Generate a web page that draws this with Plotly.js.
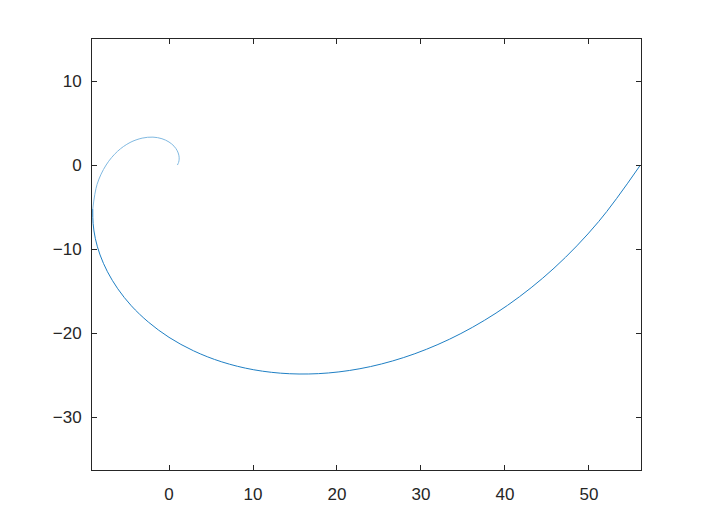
<!DOCTYPE html>
<html>
<head>
<meta charset="utf-8">
<script src="https://cdn.plot.ly/plotly-3.0.1.min.js"></script>
<style>html,body{margin:0;padding:0;background:#fff;}#plot{width:709px;height:529px;}</style>
</head>
<body>
<div id="plot"></div>
<script>
// Points (inner, lighter part)
const innerX = [1.00, 1.14, 1.21, 1.17, 0.98, 0.60, 0.00, -0.84, -1.91, -3.20, -4.64, -6.12, -7.49, -8.56, -9.08];
const innerY = [0.00, 0.31, 0.70, 1.17, 1.70, 2.24, 2.74, 3.13, 3.32, 3.20, 2.68, 1.64, 0.00, -2.29, -5.24];
// Outer, darker part
const outerX = [-9.08, -9.04, -8.77, -8.21, -7.33, -6.10, -4.49, -2.46, 0.00, 2.91, 6.28, 10.09, 14.34, 18.99, 23.99, 29.27, 34.75, 40.31, 45.84, 51.16, 56.13];
const outerY = [-5.24, -6.94, -8.77, -10.70, -12.70, -14.73, -16.75, -18.69, -20.51, -22.11, -23.43, -24.37, -24.84, -24.75, -23.99, -22.46, -20.06, -16.70, -12.28, -6.73, 0.00];
const xTicks = [0, 10, 20, 30, 40, 50];
const yTicks = [-30, -20, -10, 0, 10];

const traces = [
  {x: innerX, y: innerY, mode: 'lines', line: {color: '#80b9e1', width: 1, shape: 'spline'}, hoverinfo: 'none'},
  {x: outerX, y: outerY, mode: 'lines', line: {color: '#1f7fc4', width: 1, shape: 'spline'}, hoverinfo: 'none'}
];
const axisCommon = {
  showgrid: false, zeroline: false, showline: true, linecolor: '#262626', linewidth: 1,
  mirror: 'ticks', ticks: 'inside', ticklen: 5, tickcolor: '#262626', tickwidth: 1,
  tickfont: {family: 'Liberation Sans, Arial, sans-serif', size: 17, color: '#262626'}
};
const layout = {
  width: 709, height: 529, showlegend: false,
  paper_bgcolor: '#ffffff', plot_bgcolor: '#ffffff',
  margin: {l: 92, r: 68, t: 39, b: 59},
  xaxis: Object.assign({}, axisCommon, {range: [-9.17, 56.2], tickvals: xTicks, ticklabelstandoff: 9}),
  yaxis: Object.assign({}, axisCommon, {range: [-36.3, 15.0], tickvals: yTicks, ticklabelstandoff: 6})
};
Plotly.newPlot('plot', traces, layout, {staticPlot: true});
</script>
</body>
</html>
